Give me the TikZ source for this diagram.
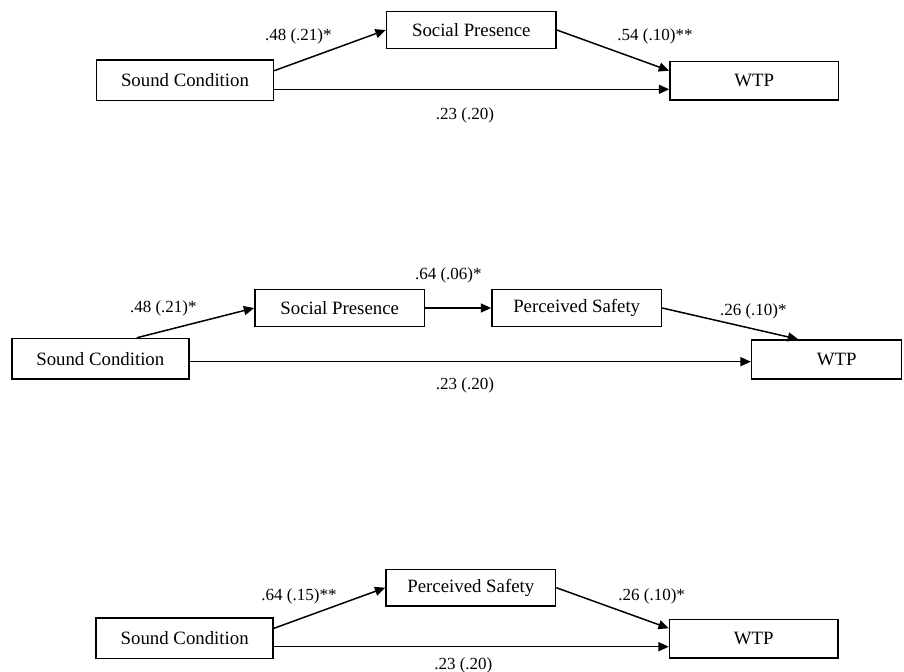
\documentclass[tikz,border=0pt]{standalone}
\usepackage{fontspec}
\setmainfont{Liberation Serif}
\usetikzlibrary{arrows.meta,calc}
\begin{document}
\begin{tikzpicture}[x=0.5pt,y=-0.5pt,
  box/.style={draw, line width=0.75pt, inner sep=0pt, font=\fontsize{9.4}{11}\selectfont},
  scbox/.style={box, minimum width=88.5pt, minimum height=20.25pt},
  midbox/.style={box, minimum width=84.75pt, minimum height=18.35pt},
  wtpbox/.style={box, minimum width=84.25pt, minimum height=19.25pt},
  lbl/.style={font=\fontsize{8.5}{10}\selectfont, inner sep=0pt},
  arr/.style={line width=0.75pt, -{Triangle[length=5.2pt,width=4.5pt]}},
  ln/.style={line width=0.75pt}]
\useasboundingbox (0,0) rectangle (904,672);

% ---------- top ----------
\node[scbox] (SC1) at (185,80.3) {Sound Condition};
\node[midbox] (SP1) at (471.3,30) {Social Presence};
\node[wtpbox] (WTP1) at (754.2,80.8) {WTP};
\draw[arr] ($(SC1.east)+(0,-9.6)$) -- (SP1.west);
\coordinate (h1) at ($(SC1.east)+(0,9)$);
\draw[arr] (h1) -- (h1 -| WTP1.west);
\draw[arr] (SP1.east) -- ($(WTP1.west)+(0,-10.1)$);
\node[lbl] (l1a) at (298.3,36) {.48 (.21)*};
\node[lbl] (l1b) at (655,36.7) {.54 (.10)**};
\node[lbl] (l1c) at (465,115) {.23 (.20)};

% ---------- middle ----------
\node[scbox] (SC2) at (100.3,358.8) {Sound Condition};
\node[midbox] (SP2) at (339.7,308) {Social Presence};
\node[midbox] (PS2) at (576.7,308) {Perceived Safety};
\node[box, minimum width=75pt, minimum height=19.5pt] (WTP2) at (826.6,359.5) {\hspace*{10pt}WTP};
\draw[arr] ($(SC2.north)+(36.4,0)$) -- (SP2.west);
\draw[arr] (SP2.east) -- (PS2.west);
\draw[arr] (PS2.east) -- ($(WTP2.north)+(-28.4,0)$);
\coordinate (h2) at ($(SC2.east)+(0,2.9)$);
\draw[arr] (h2) -- (h2 -| WTP2.west);
\node[lbl] (l2a) at (163.3,308.3) {.48 (.21)*};
\node[lbl] (l2b) at (448.3,275) {.64 (.06)*};
\node[lbl] (l2c) at (753.3,311.7) {.26 (.10)*};
\node[lbl] (l2d) at (465,385) {.23 (.20)};

% ---------- bottom ----------
\node[scbox] (SC3) at (184.7,638.3) {Sound Condition};
\node[midbox] (PS3) at (470.8,587.7) {Perceived Safety};
\node[wtpbox] (WTP3) at (753.8,638.8) {WTP};
\draw[arr] ($(SC3.east)+(0,-10)$) -- (PS3.west);
\coordinate (h3) at ($(SC3.east)+(0,8.4)$);
\draw[arr] (h3) -- (h3 -| WTP3.west);
\draw[arr] (PS3.east) -- ($(WTP3.west)+(0,-10.5)$);
\node[lbl] (l3a) at (299,596.7) {.64 (.15)**};
\node[lbl] (l3b) at (651.7,596.7) {.26 (.10)*};
\node[lbl] (l3c) at (463.3,665) {.23 (.20)};
\end{tikzpicture}
\end{document}
